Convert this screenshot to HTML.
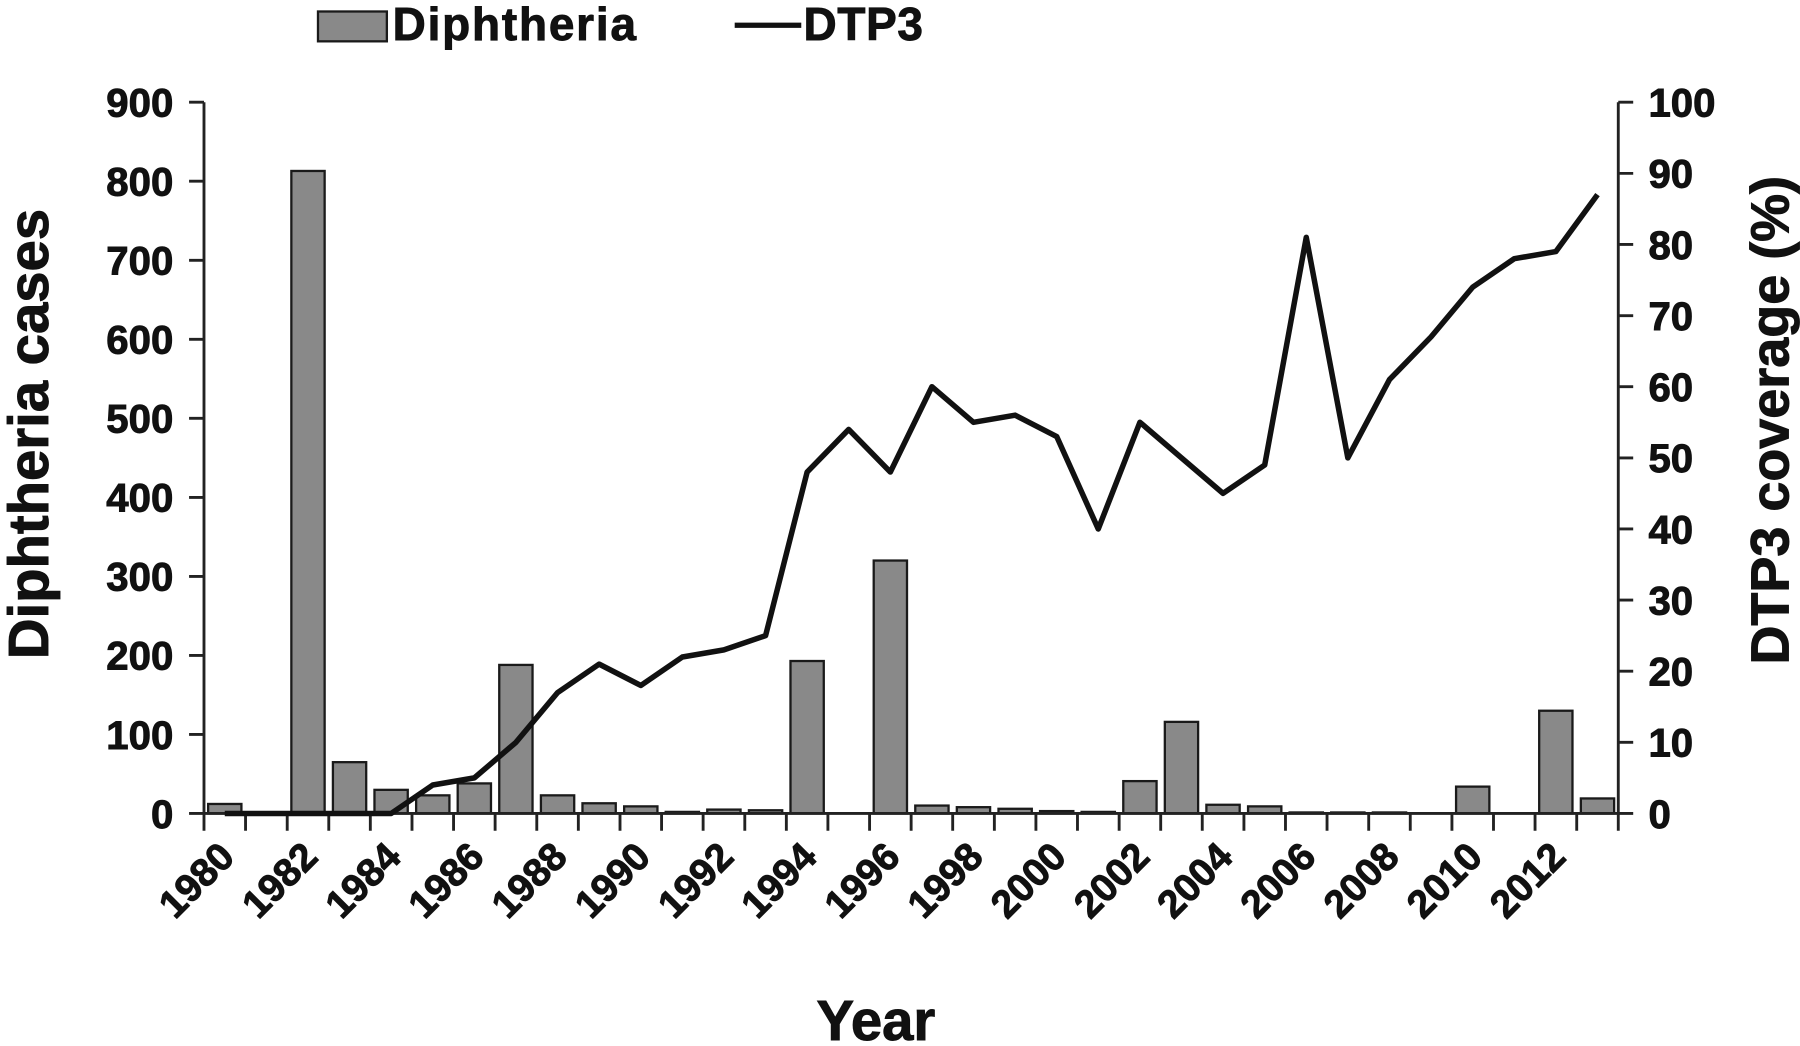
<!DOCTYPE html>
<html><head><meta charset="utf-8"><style>html,body{margin:0;padding:0;background:#fff}svg{display:block}</style></head>
<body>
<svg width="1800" height="1046" viewBox="0 0 1568 911" preserveAspectRatio="none" xmlns="http://www.w3.org/2000/svg" font-family="Liberation Sans, sans-serif" font-weight="bold" fill="#111">
<g fill="#898989" stroke="#1a1a1a" stroke-width="2">
<rect x="181.3" y="700.2" width="29" height="8.3"/>
<rect x="253.8" y="148.9" width="29" height="559.6"/>
<rect x="290.0" y="663.8" width="29" height="44.7"/>
<rect x="326.2" y="687.9" width="29" height="20.6"/>
<rect x="362.5" y="692.7" width="29" height="15.8"/>
<rect x="398.7" y="682.3" width="29" height="26.2"/>
<rect x="434.9" y="579.1" width="29" height="129.4"/>
<rect x="471.2" y="692.7" width="29" height="15.8"/>
<rect x="507.4" y="699.6" width="29" height="8.9"/>
<rect x="543.7" y="702.3" width="29" height="6.2"/>
<rect x="579.9" y="707.1" width="29" height="1.4"/>
<rect x="616.1" y="705.1" width="29" height="3.4"/>
<rect x="652.4" y="705.7" width="29" height="2.8"/>
<rect x="688.6" y="575.7" width="29" height="132.8"/>
<rect x="761.1" y="488.2" width="29" height="220.3"/>
<rect x="797.3" y="701.6" width="29" height="6.9"/>
<rect x="833.5" y="703.0" width="29" height="5.5"/>
<rect x="869.8" y="704.4" width="29" height="4.1"/>
<rect x="906.0" y="706.4" width="29" height="2.1"/>
<rect x="942.2" y="707.1" width="29" height="1.4"/>
<rect x="978.5" y="680.3" width="29" height="28.2"/>
<rect x="1014.7" y="628.7" width="29" height="79.8"/>
<rect x="1050.9" y="700.9" width="29" height="7.6"/>
<rect x="1087.2" y="702.3" width="29" height="6.2"/>
<rect x="1123.4" y="707.6" width="29" height="0.9"/>
<rect x="1159.6" y="707.6" width="29" height="0.9"/>
<rect x="1195.9" y="707.6" width="29" height="0.9"/>
<rect x="1268.4" y="685.1" width="29" height="23.4"/>
<rect x="1340.8" y="619.0" width="29" height="89.5"/>
<rect x="1377.1" y="695.4" width="29" height="13.1"/>
</g>
<g stroke="#222" stroke-width="2.5" fill="none">
<path d="M177.7 89V708.5H1409.7V89"/>
<path d="M164.7 708.5H177.7M164.7 639.7H177.7M164.7 570.8H177.7M164.7 502.0H177.7M164.7 433.2H177.7M164.7 364.3H177.7M164.7 295.5H177.7M164.7 226.7H177.7M164.7 157.8H177.7M164.7 89H177.7"/>
<path d="M1409.7 708.5h13M1409.7 646.5h13M1409.7 584.6h13M1409.7 522.6h13M1409.7 460.7h13M1409.7 398.8h13M1409.7 336.8h13M1409.7 274.9h13M1409.7 212.9h13M1409.7 151.0h13M1409.7 89h13"/>
<path d="M177.7 708.5v15M213.9 708.5v15M250.2 708.5v15M286.4 708.5v15M322.6 708.5v15M358.9 708.5v15M395.1 708.5v15M431.3 708.5v15M467.6 708.5v15M503.8 708.5v15M540.1 708.5v15M576.3 708.5v15M612.5 708.5v15M648.8 708.5v15M685.0 708.5v15M721.2 708.5v15M757.5 708.5v15M793.7 708.5v15M829.9 708.5v15M866.2 708.5v15M902.4 708.5v15M938.6 708.5v15M974.9 708.5v15M1011.1 708.5v15M1047.3 708.5v15M1083.6 708.5v15M1119.8 708.5v15M1156.0 708.5v15M1192.3 708.5v15M1228.5 708.5v15M1264.8 708.5v15M1301.0 708.5v15M1337.2 708.5v15M1373.5 708.5v15M1409.7 708.5v15"/>
</g>
<path fill="none" stroke="#111" stroke-width="4.8" stroke-linejoin="round" d="M195.8 708.5L232.0 708.5L268.3 708.5L304.5 708.5L340.7 708.5L377.0 683.7L413.2 677.5L449.4 646.6L485.7 603.2L521.9 578.4L558.2 597.0L594.4 572.2L630.6 566.0L666.9 553.6L703.1 411.1L739.3 374.0L775.6 411.1L811.8 336.8L848.0 367.8L884.3 361.6L920.5 380.2L956.7 460.7L993.0 367.8L1029.2 398.8L1065.4 429.7L1101.7 405.0L1137.9 206.7L1174.1 398.8L1210.4 330.6L1246.6 293.4L1282.9 250.1L1319.1 225.3L1355.3 219.1L1391.6 169.5"/>
<g stroke="#111" stroke-width="0.8">
<g font-size="35" text-anchor="end">
<text x="151" y="721">0</text><text x="151" y="652.2">100</text><text x="151" y="583.3">200</text><text x="151" y="514.5">300</text><text x="151" y="445.7">400</text><text x="151" y="376.8">500</text><text x="151" y="308">600</text><text x="151" y="239.2">700</text><text x="151" y="170.3">800</text><text x="151" y="101.5">900</text>
</g>
<g font-size="35">
<text x="1436" y="721">0</text><text x="1436" y="659">10</text><text x="1436" y="597.1">20</text><text x="1436" y="535.1">30</text><text x="1436" y="473.2">40</text><text x="1436" y="411.3">50</text><text x="1436" y="349.3">60</text><text x="1436" y="287.4">70</text><text x="1436" y="225.4">80</text><text x="1436" y="163.5">90</text><text x="1436" y="101.5">100</text>
</g>
<g font-size="34" text-anchor="end">
<text transform="translate(206 748) rotate(-45)">1980</text>
<text transform="translate(278.5 748) rotate(-45)">1982</text>
<text transform="translate(351 748) rotate(-45)">1984</text>
<text transform="translate(423.4 748) rotate(-45)">1986</text>
<text transform="translate(495.9 748) rotate(-45)">1988</text>
<text transform="translate(568.4 748) rotate(-45)">1990</text>
<text transform="translate(640.8 748) rotate(-45)">1992</text>
<text transform="translate(713.3 748) rotate(-45)">1994</text>
<text transform="translate(785.8 748) rotate(-45)">1996</text>
<text transform="translate(858.2 748) rotate(-45)">1998</text>
<text transform="translate(930.7 748) rotate(-45)">2000</text>
<text transform="translate(1003.2 748) rotate(-45)">2002</text>
<text transform="translate(1075.6 748) rotate(-45)">2004</text>
<text transform="translate(1148.1 748) rotate(-45)">2006</text>
<text transform="translate(1220.6 748) rotate(-45)">2008</text>
<text transform="translate(1293.1 748) rotate(-45)">2010</text>
<text transform="translate(1365.5 748) rotate(-45)">2012</text>
</g>
<text font-size="49" text-anchor="middle" transform="translate(42 378) rotate(-90)">Diphtheria cases</text>
<text font-size="47" text-anchor="middle" transform="translate(1558 366) rotate(-90)">DTP3 coverage (%)</text>
<text x="763" y="906" font-size="49" text-anchor="middle">Year</text>
<text x="342" y="35" font-size="40" textLength="212">Diphtheria</text>
<text x="700" y="35" font-size="40" textLength="104">DTP3</text>
</g>
<rect x="277" y="10" width="60" height="26" fill="#898989" stroke="#1a1a1a" stroke-width="2"/>
<line x1="640" y1="22" x2="698" y2="22" stroke="#111" stroke-width="4.5"/>
</svg>
</body></html>
